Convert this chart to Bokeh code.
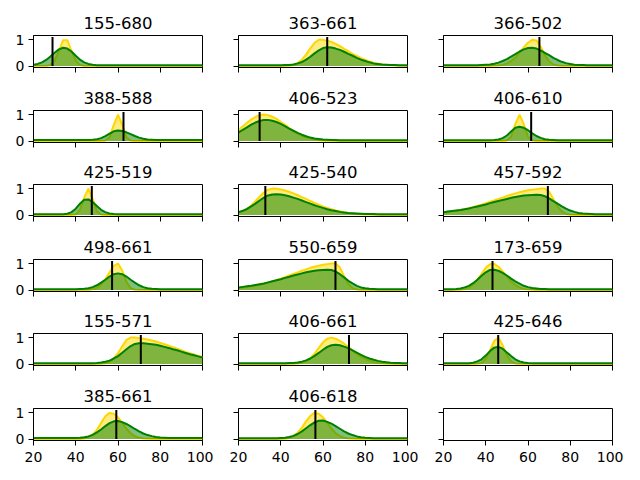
from bokeh.plotting import figure
from bokeh.layouts import column, row
from bokeh.models import Range1d, FixedTicker
from bokeh.embed import file_html
from bokeh.resources import INLINE

# ---------------- data ----------------
TITLES = ["155-680", "363-661", "366-502", "388-588", "406-523", "406-610",
          "425-519", "425-540", "457-592", "498-661", "550-659", "173-659",
          "155-571", "406-661", "425-646", "385-661", "406-618"]

VLINES = [29.0, 62.0, 65.4, 62.6, 30.0, 61.5, 47.6, 32.7, 69.4, 57.2, 65.9,
          43.2, 70.8, 72.3, 45.9, 59.2, 56.4]
VLINE_TOP = 1.1

X = [20, 22, 24, 26, 28, 30, 32, 34, 36, 38,
     40, 42, 44, 46, 48, 50, 52, 54, 56, 58,
     60, 62, 64, 66, 68, 70, 72, 74, 76, 78,
     80, 82, 84, 86, 88, 90, 92, 94, 96, 98,
     100]

XTICKS = [20, 40, 60, 80, 100]
YTICKS = [0, 1]

YELLOW = [
    [0, 0, 0, 0, 0.04, 0.20, 0.56, 0.98, 0.98, 0.56,
     0.20, 0.04, 0, 0, 0, 0, 0, 0, 0, 0,
     0, 0, 0, 0, 0, 0, 0, 0, 0, 0,
     0, 0, 0, 0, 0, 0, 0, 0, 0, 0, 0],
    [0, 0, 0, 0, 0, 0, 0, 0, 0, 0,
     0, 0, 0.01, 0.04, 0.11, 0.24, 0.43, 0.67, 0.88, 0.99,
     0.99, 0.96, 0.91, 0.84, 0.75, 0.65, 0.56, 0.46, 0.38, 0.30,
     0.23, 0.17, 0.12, 0.09, 0.06, 0.04, 0.03, 0.02, 0.01, 0.01, 0],
    [0, 0, 0, 0, 0, 0, 0, 0, 0, 0,
     0, 0, 0.01, 0.02, 0.04, 0.10, 0.19, 0.32, 0.51, 0.71,
     0.88, 0.99, 0.97, 0.73, 0.42, 0.18, 0.06, 0.02, 0, 0,
     0, 0, 0, 0, 0, 0, 0, 0, 0, 0, 0],
    [0, 0, 0, 0, 0, 0, 0, 0, 0, 0,
     0, 0, 0, 0, 0, 0, 0, 0.01, 0.14, 0.61,
     1.0, 0.61, 0.14, 0.01, 0, 0, 0, 0, 0, 0,
     0, 0, 0, 0, 0, 0, 0, 0, 0, 0, 0],
    [0.43, 0.55, 0.69, 0.81, 0.91, 0.98, 1.0, 0.98, 0.92, 0.84,
     0.73, 0.61, 0.49, 0.38, 0.28, 0.20, 0.14, 0.09, 0.06, 0.03,
     0.02, 0.01, 0.01, 0, 0, 0, 0, 0, 0, 0,
     0, 0, 0, 0, 0, 0, 0, 0, 0, 0, 0],
    [0, 0, 0, 0, 0, 0, 0, 0, 0, 0,
     0, 0, 0, 0, 0, 0.02, 0.16, 0.64, 1.0, 0.64,
     0.16, 0.02, 0, 0, 0, 0, 0, 0, 0, 0,
     0, 0, 0, 0, 0, 0, 0, 0, 0, 0, 0],
    [0, 0, 0, 0, 0, 0, 0, 0, 0, 0,
     0.02, 0.19, 0.66, 1.0, 0.61, 0.14, 0.01, 0, 0, 0,
     0, 0, 0, 0, 0, 0, 0, 0, 0, 0,
     0, 0, 0, 0, 0, 0, 0, 0, 0, 0, 0],
    [0.07, 0.14, 0.23, 0.36, 0.52, 0.69, 0.85, 0.96, 1.0, 0.99,
     0.97, 0.93, 0.88, 0.82, 0.75, 0.68, 0.61, 0.53, 0.46, 0.39,
     0.32, 0.27, 0.22, 0.17, 0.14, 0.10, 0.08, 0.06, 0.04, 0.03,
     0.02, 0.02, 0.01, 0.01, 0, 0, 0, 0, 0, 0, 0],
    [0.09, 0.11, 0.14, 0.16, 0.19, 0.22, 0.26, 0.30, 0.35, 0.39,
     0.45, 0.50, 0.55, 0.61, 0.66, 0.72, 0.77, 0.82, 0.86, 0.90,
     0.94, 0.96, 0.98, 1.0, 1.0, 0.88, 0.61, 0.32, 0.14, 0.04,
     0.01, 0, 0, 0, 0, 0, 0, 0, 0, 0, 0],
    [0, 0, 0, 0, 0, 0, 0, 0, 0, 0,
     0, 0, 0, 0, 0.03, 0.08, 0.21, 0.41, 0.67, 0.91,
     1.0, 0.74, 0.31, 0.07, 0.01, 0, 0, 0, 0, 0,
     0, 0, 0, 0, 0, 0, 0, 0, 0, 0, 0],
    [0.07, 0.09, 0.11, 0.14, 0.16, 0.20, 0.24, 0.28, 0.32, 0.38,
     0.43, 0.49, 0.55, 0.61, 0.67, 0.73, 0.78, 0.84, 0.88, 0.92,
     0.96, 0.98, 1.0, 1.0, 0.85, 0.52, 0.23, 0.07, 0.02, 0,
     0, 0, 0, 0, 0, 0, 0, 0, 0, 0, 0],
    [0, 0, 0, 0, 0.01, 0.03, 0.09, 0.20, 0.38, 0.61,
     0.84, 0.98, 0.99, 0.88, 0.71, 0.51, 0.32, 0.19, 0.10, 0.04,
     0.02, 0.01, 0, 0, 0, 0, 0, 0, 0, 0,
     0, 0, 0, 0, 0, 0, 0, 0, 0, 0, 0],
    [0, 0, 0, 0, 0, 0, 0, 0, 0, 0,
     0, 0, 0, 0, 0, 0, 0.01, 0.03, 0.08, 0.21,
     0.41, 0.67, 0.91, 1.0, 1.0, 0.98, 0.96, 0.93, 0.89, 0.85,
     0.80, 0.75, 0.69, 0.64, 0.58, 0.52, 0.46, 0.41, 0.36, 0.31, 0.27],
    [0, 0, 0, 0, 0, 0, 0, 0, 0, 0,
     0, 0, 0, 0.01, 0.02, 0.05, 0.11, 0.22, 0.39, 0.61,
     0.82, 0.96, 1.0, 0.96, 0.88, 0.77, 0.64, 0.51, 0.38, 0.27,
     0.19, 0.12, 0.07, 0.04, 0.02, 0.01, 0.01, 0, 0, 0, 0],
    [0, 0, 0, 0, 0, 0, 0, 0, 0.01, 0.04,
     0.19, 0.51, 0.88, 0.99, 0.71, 0.32, 0.10, 0.02, 0, 0,
     0, 0, 0, 0, 0, 0, 0, 0, 0, 0,
     0, 0, 0, 0, 0, 0, 0, 0, 0, 0, 0],
    [0, 0, 0, 0, 0, 0, 0, 0, 0, 0,
     0, 0, 0.02, 0.07, 0.17, 0.35, 0.61, 0.86, 0.99, 0.96,
     0.82, 0.61, 0.39, 0.22, 0.11, 0.05, 0.02, 0.01, 0, 0,
     0, 0, 0, 0, 0, 0, 0, 0, 0, 0, 0],
    [0, 0, 0, 0, 0, 0, 0, 0, 0, 0,
     0, 0.01, 0.04, 0.11, 0.24, 0.43, 0.67, 0.88, 0.99, 0.96,
     0.82, 0.61, 0.39, 0.22, 0.11, 0.05, 0.02, 0.01, 0, 0,
     0, 0, 0, 0, 0, 0, 0, 0, 0, 0, 0],
]

GREEN = [
    [0.05, 0.08, 0.14, 0.23, 0.36, 0.50, 0.63, 0.69, 0.66, 0.55,
     0.39, 0.24, 0.14, 0.08, 0.05, 0.03, 0.03, 0.03, 0.03, 0.03,
     0.03, 0.03, 0.03, 0.03, 0.03, 0.03, 0.03, 0.03, 0.03, 0.03,
     0.03, 0.03, 0.03, 0.03, 0.03, 0.03, 0.03, 0.03, 0.03, 0.03, 0.03],
    [0.03, 0.03, 0.03, 0.03, 0.03, 0.03, 0.03, 0.03, 0.03, 0.03,
     0.03, 0.04, 0.04, 0.06, 0.10, 0.15, 0.24, 0.35, 0.48, 0.59,
     0.68, 0.71, 0.70, 0.66, 0.61, 0.54, 0.46, 0.39, 0.31, 0.24,
     0.19, 0.14, 0.10, 0.08, 0.06, 0.05, 0.04, 0.04, 0.03, 0.03, 0.03],
    [0.03, 0.03, 0.03, 0.03, 0.03, 0.03, 0.03, 0.03, 0.03, 0.04,
     0.05, 0.06, 0.09, 0.13, 0.19, 0.26, 0.36, 0.45, 0.55, 0.63,
     0.68, 0.69, 0.66, 0.59, 0.50, 0.41, 0.31, 0.23, 0.16, 0.11,
     0.08, 0.05, 0.04, 0.04, 0.03, 0.03, 0.03, 0.03, 0.03, 0.03, 0.03],
    [0.04, 0.04, 0.04, 0.04, 0.04, 0.04, 0.04, 0.04, 0.04, 0.04,
     0.04, 0.04, 0.04, 0.04, 0.05, 0.07, 0.11, 0.19, 0.28, 0.37,
     0.40, 0.38, 0.33, 0.26, 0.19, 0.13, 0.09, 0.06, 0.05, 0.04,
     0.04, 0.04, 0.04, 0.04, 0.04, 0.04, 0.04, 0.04, 0.04, 0.04, 0.04],
    [0.33, 0.42, 0.52, 0.62, 0.70, 0.76, 0.80, 0.80, 0.77, 0.72,
     0.65, 0.56, 0.47, 0.39, 0.31, 0.24, 0.18, 0.13, 0.10, 0.08,
     0.06, 0.05, 0.04, 0.04, 0.03, 0.03, 0.03, 0.03, 0.03, 0.03,
     0.03, 0.03, 0.03, 0.03, 0.03, 0.03, 0.03, 0.03, 0.03, 0.03, 0.03],
    [0.03, 0.03, 0.03, 0.03, 0.03, 0.03, 0.03, 0.03, 0.03, 0.03,
     0.03, 0.03, 0.04, 0.06, 0.11, 0.21, 0.36, 0.50, 0.54, 0.50,
     0.41, 0.29, 0.19, 0.12, 0.07, 0.05, 0.04, 0.03, 0.03, 0.03,
     0.03, 0.03, 0.03, 0.03, 0.03, 0.03, 0.03, 0.03, 0.03, 0.03, 0.03],
    [0.03, 0.03, 0.03, 0.03, 0.03, 0.03, 0.03, 0.03, 0.05, 0.11,
     0.24, 0.43, 0.58, 0.59, 0.49, 0.34, 0.20, 0.11, 0.06, 0.04,
     0.03, 0.03, 0.03, 0.03, 0.03, 0.03, 0.03, 0.03, 0.03, 0.03,
     0.03, 0.03, 0.03, 0.03, 0.03, 0.03, 0.03, 0.03, 0.03, 0.03, 0.03],
    [0.11, 0.16, 0.23, 0.33, 0.43, 0.55, 0.66, 0.74, 0.78, 0.79,
     0.78, 0.75, 0.71, 0.66, 0.61, 0.55, 0.49, 0.43, 0.37, 0.32,
     0.27, 0.22, 0.18, 0.15, 0.12, 0.10, 0.08, 0.07, 0.06, 0.05,
     0.04, 0.04, 0.04, 0.03, 0.03, 0.03, 0.03, 0.03, 0.03, 0.03, 0.03],
    [0.11, 0.13, 0.15, 0.17, 0.19, 0.22, 0.25, 0.29, 0.32, 0.36,
     0.40, 0.45, 0.49, 0.53, 0.57, 0.61, 0.65, 0.68, 0.71, 0.74,
     0.75, 0.76, 0.77, 0.76, 0.71, 0.63, 0.53, 0.43, 0.33, 0.24,
     0.17, 0.12, 0.08, 0.06, 0.05, 0.04, 0.03, 0.03, 0.03, 0.03, 0.03],
    [0.03, 0.03, 0.03, 0.03, 0.03, 0.03, 0.03, 0.03, 0.03, 0.03,
     0.03, 0.04, 0.05, 0.07, 0.11, 0.18, 0.28, 0.39, 0.51, 0.60,
     0.63, 0.60, 0.51, 0.39, 0.28, 0.18, 0.11, 0.07, 0.05, 0.04,
     0.03, 0.03, 0.03, 0.03, 0.03, 0.03, 0.03, 0.03, 0.03, 0.03, 0.03],
    [0.10, 0.12, 0.14, 0.16, 0.19, 0.22, 0.25, 0.29, 0.33, 0.37,
     0.41, 0.46, 0.50, 0.55, 0.59, 0.63, 0.67, 0.70, 0.73, 0.75,
     0.76, 0.77, 0.76, 0.70, 0.60, 0.48, 0.35, 0.25, 0.16, 0.10,
     0.07, 0.05, 0.04, 0.03, 0.03, 0.03, 0.03, 0.03, 0.03, 0.03, 0.03],
    [0.03, 0.03, 0.03, 0.04, 0.06, 0.10, 0.16, 0.26, 0.39, 0.54,
     0.67, 0.76, 0.77, 0.73, 0.65, 0.55, 0.43, 0.33, 0.24, 0.16,
     0.11, 0.08, 0.06, 0.04, 0.04, 0.03, 0.03, 0.03, 0.03, 0.03,
     0.03, 0.03, 0.03, 0.03, 0.03, 0.03, 0.03, 0.03, 0.03, 0.03, 0.03],
    [0.03, 0.03, 0.03, 0.03, 0.03, 0.03, 0.03, 0.03, 0.03, 0.03,
     0.03, 0.03, 0.03, 0.03, 0.03, 0.04, 0.06, 0.09, 0.13, 0.21,
     0.30, 0.43, 0.56, 0.68, 0.76, 0.79, 0.79, 0.77, 0.75, 0.73,
     0.69, 0.65, 0.61, 0.56, 0.52, 0.47, 0.42, 0.37, 0.33, 0.29, 0.25],
    [0.03, 0.03, 0.03, 0.03, 0.03, 0.03, 0.03, 0.03, 0.03, 0.03,
     0.03, 0.03, 0.04, 0.04, 0.06, 0.09, 0.14, 0.21, 0.31, 0.42,
     0.54, 0.65, 0.71, 0.73, 0.71, 0.66, 0.60, 0.52, 0.43, 0.35,
     0.27, 0.21, 0.16, 0.12, 0.09, 0.07, 0.05, 0.04, 0.04, 0.03, 0.03],
    [0.03, 0.03, 0.03, 0.03, 0.03, 0.03, 0.03, 0.05, 0.10, 0.18,
     0.32, 0.49, 0.62, 0.65, 0.58, 0.44, 0.30, 0.18, 0.10, 0.06,
     0.04, 0.03, 0.03, 0.03, 0.03, 0.03, 0.03, 0.03, 0.03, 0.03,
     0.03, 0.03, 0.03, 0.03, 0.03, 0.03, 0.03, 0.03, 0.03, 0.03, 0.03],
    [0.04, 0.04, 0.04, 0.04, 0.04, 0.04, 0.04, 0.04, 0.04, 0.04,
     0.04, 0.05, 0.07, 0.10, 0.16, 0.25, 0.36, 0.49, 0.60, 0.67,
     0.68, 0.64, 0.57, 0.48, 0.38, 0.29, 0.21, 0.15, 0.11, 0.08,
     0.06, 0.05, 0.04, 0.04, 0.04, 0.04, 0.04, 0.04, 0.04, 0.04, 0.04],
    [0.03, 0.03, 0.03, 0.03, 0.03, 0.03, 0.03, 0.03, 0.03, 0.03,
     0.04, 0.05, 0.08, 0.12, 0.19, 0.29, 0.41, 0.53, 0.63, 0.69,
     0.70, 0.65, 0.58, 0.49, 0.39, 0.29, 0.21, 0.15, 0.10, 0.07,
     0.05, 0.04, 0.03, 0.03, 0.03, 0.03, 0.03, 0.03, 0.03, 0.03, 0.03],
]

# ---------------- styling / layout ----------------
FONT = "DejaVu Sans"
ROW_BOTTOM = [8, 7, 8, 7, 8, 20]


def style_axis(ax, ticks, labelled):
    ax.axis_line_color = "black"
    ax.axis_line_width = 1
    ax.major_label_text_font = FONT
    ax.major_label_text_font_size = "14px"
    ax.major_label_text_color = "black"
    ax.major_tick_in = 0
    ax.minor_tick_in = 0
    if labelled:
        ax.ticker = FixedTicker(ticks=ticks, minor_ticks=[])
        ax.major_tick_line_color = "black"
        ax.major_tick_line_width = 1
        ax.major_tick_out = 5
        ax.major_label_standoff = 6
        ax.minor_tick_line_color = None
    else:
        # ticks without labels: drawn as minor ticks so no empty texts exist
        ax.ticker = FixedTicker(ticks=[], minor_ticks=ticks)
        ax.minor_tick_line_color = "black"
        ax.minor_tick_line_width = 1
        ax.minor_tick_out = 5
        ax.major_tick_line_color = None
        ax.major_label_standoff = 0


rows = []
for r in range(6):
    figs = []
    for c in range(3):
        k = r * 3 + c
        has_data = k < len(TITLES)
        kw = dict(
            frame_width=169, frame_height=32,
            x_range=Range1d(20, 100), y_range=Range1d(-0.055, 1.155),
            output_backend="svg", toolbar_location=None,
            min_border_left=33 if c == 0 else 25, min_border_right=11,
            min_border_top=35, min_border_bottom=ROW_BOTTOM[r],
            background_fill_color="white", border_fill_color="white",
        )
        if has_data:
            kw["title"] = TITLES[k]
        p = figure(**kw)
        if has_data:
            p.title.text_font = FONT
            p.title.text_font_size = "16.5px"
            p.title.text_font_style = "normal"
            p.title.text_color = "black"
            p.title.align = "center"
            p.title.standoff = 14

        p.xgrid.visible = False
        p.ygrid.visible = False
        p.outline_line_color = "black"
        p.outline_line_alpha = 1.0
        p.outline_line_width = 1

        style_axis(p.xaxis[0], XTICKS, r == 5)
        style_axis(p.yaxis[0], YTICKS, c == 0)
        if c == 0:
            p.yaxis[0].major_label_standoff = 4

        if has_data:
            yv = YELLOW[k]
            gv = GREEN[k]
            p.varea(x=X, y1=[0] * len(X), y2=yv, fill_color="gold", fill_alpha=0.5)
            p.line(X, yv, line_color="gold", line_width=2)
            p.varea(x=X, y1=[0] * len(X), y2=gv, fill_color="green", fill_alpha=0.5)
            p.line(X, gv, line_color="green", line_width=2)
            p.segment(x0=[VLINES[k]], y0=[0], x1=[VLINES[k]], y1=[VLINE_TOP],
                      line_color="black", line_width=2)
        figs.append(p)
    rows.append(row(*figs))

layout = column(*rows)
open("out.html", "w").write(file_html(layout, INLINE))
